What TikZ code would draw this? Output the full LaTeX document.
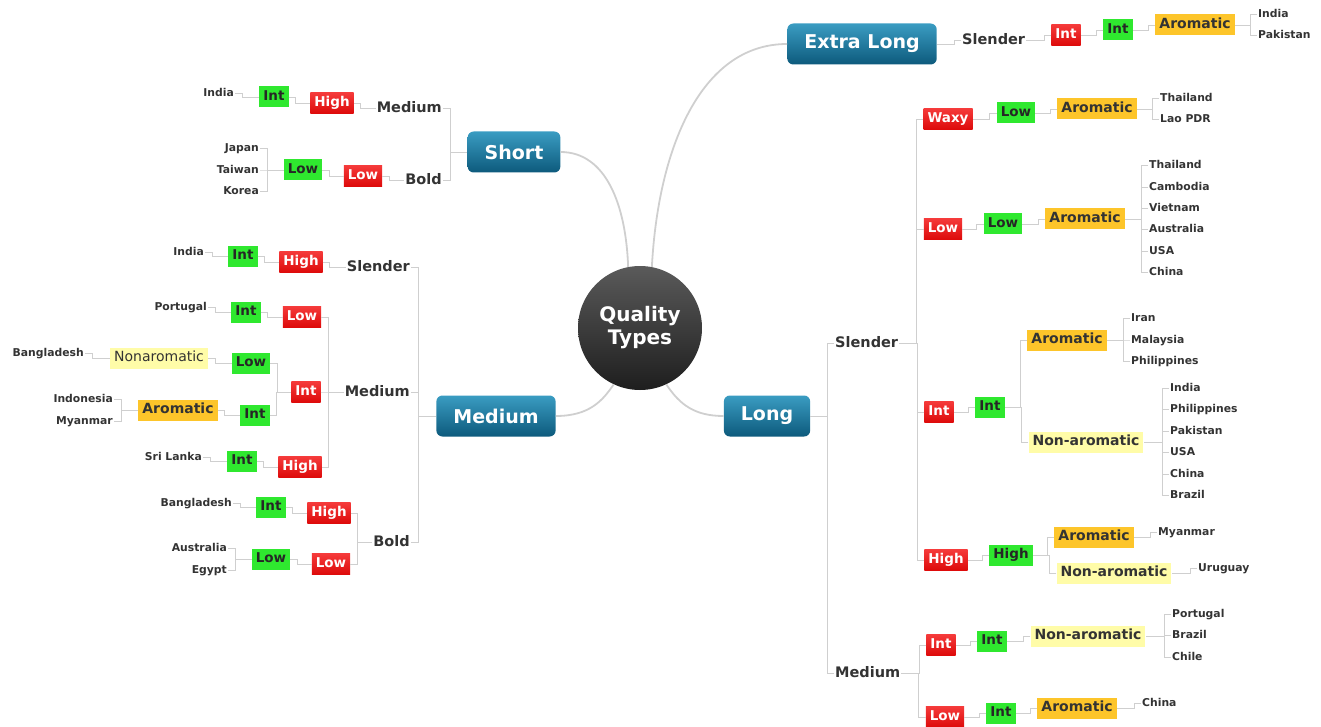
\documentclass[tikz,border=0pt]{standalone}
\usepackage{fontspec}
\setmainfont{DejaVu Sans}
\definecolor{txtgray}{HTML}{333333}
\definecolor{redtop}{HTML}{F53A3A}
\definecolor{redbot}{HTML}{DD0A0A}
\definecolor{grn}{HTML}{2FE82F}
\definecolor{gold}{HTML}{FDC52A}
\definecolor{pale}{HTML}{FFFCA8}
\definecolor{bluetop}{HTML}{3A9CC2}
\definecolor{bluebot}{HTML}{0D5A7C}
\definecolor{hubtop}{HTML}{5A5A5A}
\definecolor{hubbot}{HTML}{1E1E1E}
\definecolor{wire}{HTML}{CFCFCF}
\tikzset{
  hub/.style={circle, minimum size=124pt, top color=hubtop, bottom color=hubbot, text=white,
    font=\fontsize{20}{24}\selectfont\bfseries, align=center},
  topic/.style={rectangle, rounded corners=6pt, top color=bluetop, bottom color=bluebot, text=white,
    font=\fontsize{19}{22}\selectfont\bfseries, inner xsep=17pt, minimum height=41pt},
  sub/.style={font=\fontsize{14.5}{17}\selectfont\bfseries, text=txtgray, inner sep=1pt,
    text height=12pt, text depth=2.5pt},
  place/.style={font=\fontsize{10.8}{13}\selectfont\bfseries, text=txtgray, inner sep=1pt,
    text height=9.5pt, text depth=2pt},
  tag/.style={font=\fontsize{13.5}{15}\selectfont\bfseries, inner xsep=4pt, inner ysep=0pt,
    text height=10pt, text depth=3pt, minimum height=21pt},
  redtag/.style={tag, top color=redtop, bottom color=redbot, text=white},
  greentag/.style={tag, fill=grn, text=black!85},
  arom/.style={tag, font=\fontsize{14}{16}\selectfont\bfseries, fill=gold, text=txtgray},
  nonarom/.style={arom, fill=pale},
  nonaromlight/.style={arom, font=\fontsize{14}{16}\selectfont, fill=pale},
  link/.style={draw=wire, line width=0.9pt},
  trunk/.style={draw=wire, line width=1.8pt}
}
\begin{document}
\begin{tikzpicture}[x=1pt,y=-1pt]     % y runs downwards, like the page
\useasboundingbox (0,0) rectangle (1321,727);

\node[hub] (qt) at (640,328) {Quality\\[-1pt]Types};
\node[topic] (xlong) at (862,44) {Extra Long};
\node[topic] (short) at (514,152) {Short};
\node[topic] (medium) at (496,416) {Medium};
\node[topic] (long) at (767,416) {Long};

\draw[trunk] (short.east) .. controls (606,152) and (626,205) .. (qt.101);
\draw[trunk] (qt.79) .. controls (658,150) and (700,44) .. (xlong.west);
\draw[trunk] (medium.east) .. controls (590,416) and (603,400) .. (qt.245);
\draw[trunk] (qt.295) .. controls (680,405) and (695,416) .. (long.west);

% Short
\node[sub, anchor=east] (sMed) at (443,108) {Medium};
\node[sub, anchor=east] (sBold) at (443,180) {Bold};
\node[redtag] (sMedHi) at (332,103) {High};
\node[greentag] (sMedInt) at (274,97) {Int};
\node[place, anchor=east] (sMedIndia) at (235,93) {India};
\node[redtag] (sBoldLo) at (363,176) {Low};
\node[greentag] (sBoldLoG) at (303,170) {Low};
\node[place, anchor=east] (sJapan) at (260,148) {Japan};
\node[place, anchor=east] (sTaiwan) at (260,170) {Taiwan};
\node[place, anchor=east] (sKorea) at (260,191) {Korea};

% Medium
\node[sub, anchor=east] (mSl) at (411,267) {Slender};
\node[sub, anchor=east] (mMed) at (411,392) {Medium};
\node[sub, anchor=east] (mBold) at (411,542) {Bold};
\node[redtag] (mSlHi) at (301,262) {High};
\node[greentag] (mSlInt) at (243,256) {Int};
\node[place, anchor=east] (mSlIndia) at (205,252) {India};
\node[redtag] (mMedLo) at (302,317) {Low};
\node[greentag] (mMedLoInt) at (246,312) {Int};
\node[place, anchor=east] (mPortugal) at (208,307) {Portugal};
\node[redtag] (mMedInt) at (306,392) {Int};
\node[greentag] (mIntLo) at (251,363) {Low};
\node[nonaromlight] (mNonar) at (159,358) {Nonaromatic};
\node[place, anchor=east] (mBangla1) at (85,353) {Bangladesh};
\node[greentag] (mIntInt) at (255,415) {Int};
\node[arom] (mArom) at (178,410) {Aromatic};
\node[place, anchor=east] (mIndonesia) at (114,399) {Indonesia};
\node[place, anchor=east] (mMyanmar) at (114,421) {Myanmar};
\node[redtag] (mMedHi) at (300,467) {High};
\node[greentag] (mHiInt) at (242,461) {Int};
\node[place, anchor=east] (mSriLanka) at (203,457) {Sri Lanka};
\node[redtag] (mBoldHi) at (329,513) {High};
\node[greentag] (mBoldHiInt) at (271,507) {Int};
\node[place, anchor=east] (mBangla2) at (233,503) {Bangladesh};
\node[redtag] (mBoldLo) at (331,564) {Low};
\node[greentag] (mBoldLoG) at (271,559) {Low};
\node[place, anchor=east] (mAustralia) at (228,548) {Australia};
\node[place, anchor=east] (mEgypt) at (228,570) {Egypt};

% Extra Long
\node[sub, anchor=west] (xSl) at (961,40) {Slender};
\node[redtag] (xInt) at (1066,35) {Int};
\node[greentag] (xIntG) at (1118,30) {Int};
\node[arom] (xArom) at (1195,25) {Aromatic};
\node[place, anchor=west] (xIndia) at (1257,14) {India};
\node[place, anchor=west] (xPakistan) at (1257,35) {Pakistan};

% Long
\node[sub, anchor=west] (lSl) at (834,343) {Slender};
\node[sub, anchor=west] (lMed) at (834,673) {Medium};
\node[redtag] (lWaxy) at (948,119) {Waxy};
\node[greentag] (lWaxyLo) at (1016,113) {Low};
\node[arom] (lWaxyArom) at (1097,109) {Aromatic};
\node[place, anchor=west] (lThai1) at (1159,98) {Thailand};
\node[place, anchor=west] (lLao) at (1159,119) {Lao PDR};
\node[redtag] (lLo) at (943,229) {Low};
\node[greentag] (lLoLo) at (1003,224) {Low};
\node[arom] (lLoArom) at (1085,219) {Aromatic};
\node[redtag] (lInt) at (939,412) {Int};
\node[greentag] (lIntInt) at (990,407) {Int};
\node[arom] (lIntArom) at (1067,340) {Aromatic};
\node[nonarom] (lIntNon) at (1086,442) {Non-aromatic};
\node[redtag] (lHi) at (946,560) {High};
\node[greentag] (lHiHi) at (1011,555) {High};
\node[arom] (lHiArom) at (1094,537) {Aromatic};
\node[place, anchor=west] (lMyanmar) at (1157,532) {Myanmar};
\node[nonarom] (lHiNon) at (1114,573) {Non-aromatic};
\node[place, anchor=west] (lUruguay) at (1197,568) {Uruguay};
\node[redtag] (lMedInt) at (941,645) {Int};
\node[greentag] (lMedIntInt) at (992,641) {Int};
\node[nonarom] (lMedNon) at (1088,636) {Non-aromatic};
\node[redtag] (lMedLo) at (945,717) {Low};
\node[greentag] (lMedLoInt) at (1001,713) {Int};
\node[arom] (lMedArom) at (1077,708) {Aromatic};
\node[place, anchor=west] (lChina) at (1141,703) {China};

% country lists
\foreach \cty/\yy in {Thailand/165, Cambodia/187, Vietnam/208, Australia/229, USA/251, China/272}{
  \node[place, anchor=west] (la\yy) at (1148,\yy) {\cty};
  \draw[link] (la\yy.west) -- ++(-7,0) |- (lLoArom.east);
}
\foreach \cty/\yy in {Iran/318, Malaysia/340, Philippines/361}{
  \node[place, anchor=west] (lb\yy) at (1130,\yy) {\cty};
  \draw[link] (lb\yy.west) -- ++(-7,0) |- (lIntArom.east);
}
\foreach \cty/\yy in {India/388, Philippines/409, Pakistan/431, USA/452, China/474, Brazil/495}{
  \node[place, anchor=west] (lc\yy) at (1169,\yy) {\cty};
  \draw[link] (lc\yy.west) -- ++(-7,0) |- (lIntNon.east);
}
\foreach \cty/\yy in {Portugal/614, Brazil/635, Chile/657}{
  \node[place, anchor=west] (ld\yy) at (1171,\yy) {\cty};
  \draw[link] (ld\yy.west) -- ++(-7,0) |- (lMedNon.east);
}

% connectors, child to parent
\foreach \c/\p in {sMed/short, sBold/short, sMedHi/sMed, sMedInt/sMedHi, sMedIndia/sMedInt,
    sBoldLo/sBold, sBoldLoG/sBoldLo, sJapan/sBoldLoG, sTaiwan/sBoldLoG, sKorea/sBoldLoG,
    mSl/medium, mMed/medium, mBold/medium, mSlHi/mSl, mSlInt/mSlHi, mSlIndia/mSlInt,
    mMedLo/mMed, mMedLoInt/mMedLo, mPortugal/mMedLoInt, mMedInt/mMed, mIntLo/mMedInt,
    mNonar/mIntLo, mBangla1/mNonar, mIntInt/mMedInt, mArom/mIntInt, mIndonesia/mArom,
    mMyanmar/mArom, mMedHi/mMed, mHiInt/mMedHi, mSriLanka/mHiInt, mBoldHi/mBold,
    mBoldHiInt/mBoldHi, mBangla2/mBoldHiInt, mBoldLo/mBold, mBoldLoG/mBoldLo,
    mAustralia/mBoldLoG, mEgypt/mBoldLoG}
  \draw[link] (\c.east) -- ++(7,0) |- (\p.west);
\foreach \c/\p in {xSl/xlong, xInt/xSl, xIntG/xInt, xArom/xIntG, xIndia/xArom, xPakistan/xArom,
    lSl/long, lMed/long, lWaxy/lSl, lWaxyLo/lWaxy, lWaxyArom/lWaxyLo, lThai1/lWaxyArom,
    lLao/lWaxyArom, lLo/lSl, lLoLo/lLo, lLoArom/lLoLo, lInt/lSl, lIntInt/lInt,
    lIntArom/lIntInt, lIntNon/lIntInt, lHi/lSl, lHiHi/lHi, lHiArom/lHiHi, lMyanmar/lHiArom,
    lHiNon/lHiHi, lUruguay/lHiNon, lMedInt/lMed, lMedIntInt/lMedInt, lMedNon/lMedIntInt,
    lMedLo/lMed, lMedLoInt/lMedLo, lMedArom/lMedLoInt, lChina/lMedArom}
  \draw[link] (\c.west) -- ++(-7,0) |- (\p.east);
\end{tikzpicture}
\end{document}
